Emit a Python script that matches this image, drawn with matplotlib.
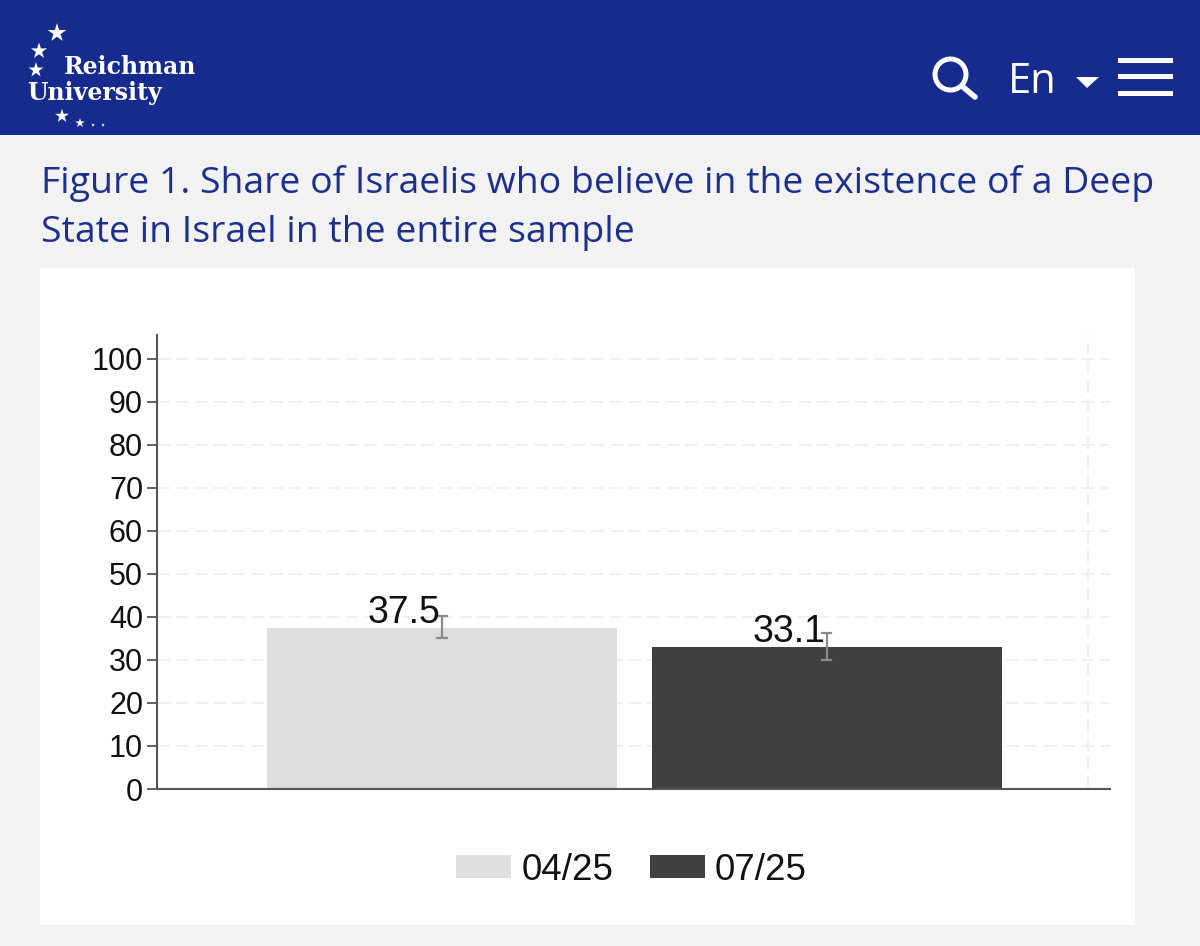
import matplotlib
matplotlib.use("Agg")
import matplotlib.pyplot as plt
from matplotlib.patches import Circle, Rectangle, Polygon

# data
periods = ["04/25", "07/25"]
shares = [37.5, 33.1]
err_low = [35.1, 30.0]
err_high = [40.2, 36.2]
y_ticks = list(range(0, 101, 10))
title_lines = [
    "Figure 1. Share of Israelis who believe in the existence of a Deep",
    "State in Israel in the entire sample",
]
bar_colors = ["#dedede", "#404040"]

W, H = 1200, 946
NAVY = "#172b8f"
TITLE_BLUE = "#1c2f8c"
GRID_DASH = (0, (6.7, 3))

plt.rcParams["font.family"] = ["Liberation Sans", "DejaVu Sans"]
fig = plt.figure(figsize=(W / 100, H / 100), dpi=100, facecolor="#f2f2f2")

# page furniture, in pixel coordinates
page = fig.add_axes([0, 0, 1, 1])
page.set_xlim(0, W)
page.set_ylim(H, 0)
page.axis("off")
page.add_patch(Rectangle((0, 0), W, 135, color=NAVY, lw=0))
page.add_patch(Rectangle((40, 268), 1095, 657, color="white", lw=0))

# logo
star_x = [57, 39, 36, 62, 80, 93, 103]
star_y = [33, 51, 70, 116, 123, 125, 125]
star_s = [200, 150, 130, 110, 50, 8, 8]
page.scatter(star_x, star_y, s=star_s, marker="*", color="white", lw=0)
page.text(64, 67, "Reichman", color="white", fontsize=17, fontweight="bold",
          family="DejaVu Serif", va="center", ha="left")
page.text(27, 93, "University", color="white", fontsize=17, fontweight="bold",
          family="DejaVu Serif", va="center", ha="left")

# search, language and menu icons
page.add_patch(Circle((950.5, 74.5), 15.5, fill=False, ec="white", lw=3.6))
page.plot([963, 975], [87, 97], color="white", lw=4, solid_capstyle="round")
page.text(1008, 82, "En", color="white", fontsize=30, family="Open Sans",
          va="center", ha="left")
page.add_patch(Polygon([[1076, 77], [1099, 77], [1087, 88]], color="white", lw=0))
for y in (58, 74, 91):
    page.add_patch(Rectangle((1118, y), 55, 5.5, color="white", lw=0))

# heading
for line, y in zip(title_lines, (183, 233)):
    page.text(41, y, line, color=TITLE_BLUE, fontsize=26.9, family="Open Sans",
              va="center", ha="left")

# chart: axes box spans x 157-1110, y 335-789 in pixels
ax = fig.add_axes([157 / W, 1 - 789 / H, (1110 - 157) / W, (789 - 335) / H])
ax.patch.set_alpha(0)
positions = list(range(len(periods)))
ax.set_xlim(-0.741, 1.737)
ax.set_ylim(0, 105.5)

ax.grid(axis="y", color="#f0f0f0", lw=1.4, ls=GRID_DASH)
ax.axvline(1.68, color="#f0f0f0", lw=1.4, ls=GRID_DASH, zorder=0)
ax.set_axisbelow(True)

bars = ax.bar(positions, shares, width=0.91, color=bar_colors, lw=0, label="_nolegend_")
ax.vlines(positions, err_low, err_high, color="#8c8c8c", lw=1.6, zorder=3)
for x, lo, hi in zip(positions, err_low, err_high):
    ax.plot([x - 0.012, x + 0.012], [lo, lo], color="#8c8c8c", lw=1.6, zorder=3)
    ax.plot([x - 0.012, x + 0.012], [hi, hi], color="#8c8c8c", lw=1.6, zorder=3)

for x, val in zip(positions, shares):
    ax.annotate(f"{val}", (x, val), xytext=(-1, 3), textcoords="offset points",
                ha="right", va="baseline", fontsize=27, color="#111111")

for spine in ("top", "right"):
    ax.spines[spine].set_visible(False)
for spine in ("left", "bottom"):
    ax.spines[spine].set_color("#555555")
    ax.spines[spine].set_linewidth(1.5)
ax.set_xticks([])
ax.set_yticks(y_ticks)
ax.tick_params(axis="y", labelsize=22, length=7, width=1.3, color="#555555",
               labelcolor="#111111", pad=3)

fig.legend(bars, periods, loc="center", bbox_to_anchor=(631.5 / W, 1 - 870 / H),
           ncol=2, frameon=False, fontsize=26.5, handlelength=1.5, handleheight=0.62,
           handletextpad=0.27, columnspacing=1.0, labelcolor="#111111")

fig.savefig("out.png", dpi=100, facecolor=fig.get_facecolor())
